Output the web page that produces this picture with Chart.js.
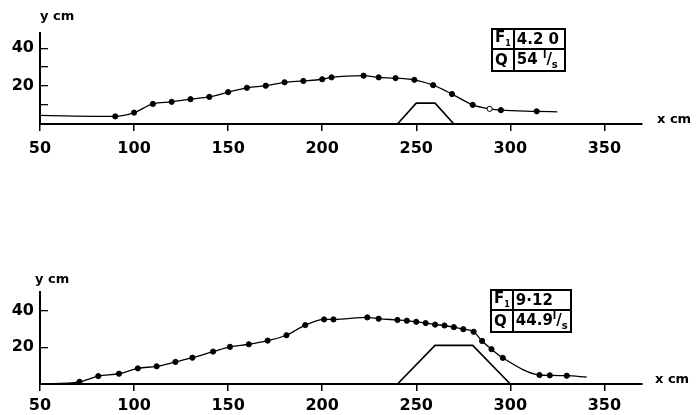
<!DOCTYPE html>
<html>
<head>
<meta charset="utf-8">
<script src="https://cdn.jsdelivr.net/npm/chart.js@4.4.1/dist/chart.umd.min.js"></script>
<style>
  body { margin: 0; background: #fff; }
  #wrap { position: relative; width: 696px; height: 415px; font-family: "DejaVu Sans", sans-serif; }
  .box { position: absolute; height: 175px; width: 696px; }
  .lbl { position: absolute; font-weight: bold; font-size: 13px; color: #000; }
  table.fq { position: absolute; border-collapse: collapse; font-weight: bold; font-size: 15px; line-height: 1; }
  table.fq td { border: 2px solid #000; padding: 0 2px; white-space: nowrap; }
</style>
</head>
<body>
<div id="wrap">
  <div class="box" style="top:0;height:175px"><canvas id="topChart"></canvas></div>
  <div class="box" style="top:175px;height:240px"><canvas id="botChart"></canvas></div>

  <div class="lbl" style="left:40px;top:8px">y cm</div>
  <div class="lbl" style="left:657px;top:111px">x cm</div>
  <div class="lbl" style="left:35px;top:271px">y cm</div>
  <div class="lbl" style="left:655px;top:371px">x cm</div>

  <table class="fq" style="left:491px;top:28px;width:75px;height:37px">
    <tr><td style="width:14px">F<sub style="font-size:8px">1</sub></td><td>4.2 0</td></tr>
    <tr><td>Q</td><td>54 <sup style="font-size:10px">l</sup>/<sub style="font-size:10px">s</sub></td></tr>
  </table>
  <table class="fq" style="left:490px;top:289px;width:76px;height:40px">
    <tr><td style="width:14px">F<sub style="font-size:8px">1</sub></td><td>9·12</td></tr>
    <tr><td>Q</td><td>44.9<sup style="font-size:10px">l</sup>/<sub style="font-size:10px">s</sub></td></tr>
  </table>
</div>

<script>
// run 1 : F1 = 4.20, Q = 54 l/s
const xTop = [50, 90, 100, 110, 120, 130, 140, 150, 160, 170, 180, 190, 200, 205, 222, 230, 239, 249, 259, 269, 280, 289, 295, 314, 325];
const yTop = [4.5, 4.0, 6.0, 10.6, 11.7, 13.1, 14.3, 16.8, 19.1, 20.2, 22.0, 22.7, 23.6, 24.6, 25.5, 24.6, 24.2, 23.3, 20.5, 15.8, 10.1, 8.0, 7.3, 6.7, 6.4];
const sillTopX = [240, 250, 260, 270];
const sillTopY = [0, 11, 11, 0];

// run 2 : F1 = 9.12, Q = 44.9 l/s
const xBot = [50, 71, 81, 92, 102, 112, 122, 131, 142, 151, 161, 171, 181, 191, 201, 206, 224, 230, 240, 245, 250, 255, 260, 265, 270, 275, 280.5, 285, 290, 296, 315.5, 321, 330, 340.5];
const yBot = [0, 1.2, 4.3, 5.6, 8.5, 9.6, 12.0, 14.3, 17.6, 20.2, 21.6, 23.6, 26.5, 32.0, 35.1, 35.1, 36.2, 35.5, 34.8, 34.4, 33.8, 33.1, 32.3, 31.8, 30.9, 29.8, 28.4, 23.4, 18.9, 14.2, 4.9, 4.7, 4.5, 3.8];
const sillBotX = [240, 260, 280, 300];
const sillBotY = [0, 21, 21, 0];

const xTicks = [50, 100, 150, 200, 250, 300, 350];
const yLabels = [20, 40];

const pts = (xs, ys) => xs.map((x, i) => ({ x: x, y: ys[i] }));

function makeChart(id, cfg) {
  const n = cfg.x.length;
  // no marker at the two ends of the traced line, hollow marker where the scan shows one
  const radius = cfg.x.map((v, i) => (i === 0 || i === n - 1) ? 0 : 2.6);
  const fill = cfg.x.map((v, i) => cfg.hollow.includes(i) ? '#fff' : '#000');

  return new Chart(document.getElementById(id), {
    type: 'scatter',
    data: {
      datasets: [
        {
          data: pts(cfg.x, cfg.y),
          showLine: true,
          borderColor: '#000',
          borderWidth: 1.3,
          cubicInterpolationMode: 'monotone',
          pointRadius: radius,
          pointBackgroundColor: fill,
          pointBorderColor: '#000',
          pointBorderWidth: 1
        },
        {
          data: pts(cfg.sx, cfg.sy),
          showLine: true,
          borderColor: '#000',
          borderWidth: 1.6,
          tension: 0,
          pointRadius: 0
        }
      ]
    },
    options: {
      responsive: true,
      maintainAspectRatio: false,
      animation: false,
      events: [],
      layout: { padding: { top: cfg.padTop, right: 54, left: 0, bottom: 0 } },
      plugins: { legend: { display: false }, tooltip: { enabled: false } },
      scales: {
        x: {
          type: 'linear',
          min: 50,
          max: 370,
          afterFit: (s) => { s.height = cfg.xHeight; },
          afterBuildTicks: (s) => { s.ticks = xTicks.map(v => ({ value: v })); },
          ticks: {
            color: '#000',
            padding: cfg.xPad,
            font: { family: 'DejaVu Sans', size: 16, weight: 'bold' },
            callback: (v) => String(v)
          },
          grid: { drawOnChartArea: false, color: '#000', tickLength: 7, lineWidth: 1.5 },
          border: { color: '#000', width: 2 }
        },
        y: {
          min: 0,
          max: cfg.yMax,
          afterFit: (s) => { s.width = 40; },
          ticks: {
            stepSize: 10,
            includeBounds: false,
            color: '#000',
            padding: 14,
            font: { family: 'DejaVu Sans', size: 16, weight: 'bold' },
            callback: (v) => yLabels.includes(v) ? String(v) : ''
          },
          grid: { drawOnChartArea: false, color: '#000', tickLength: -8, lineWidth: 1.3 },
          border: { color: '#000', width: 2 }
        }
      }
    }
  });
}

makeChart('topChart', { x: xTop, y: yTop, sx: sillTopX, sy: sillTopY, hollow: [21], yMax: 48, padTop: 33, xHeight: 51, xPad: 8 });
makeChart('botChart', { x: xBot, y: yBot, sx: sillBotX, sy: sillBotY, hollow: [], yMax: 50, padTop: 117, xHeight: 31, xPad: 5 });
</script>
</body>
</html>
